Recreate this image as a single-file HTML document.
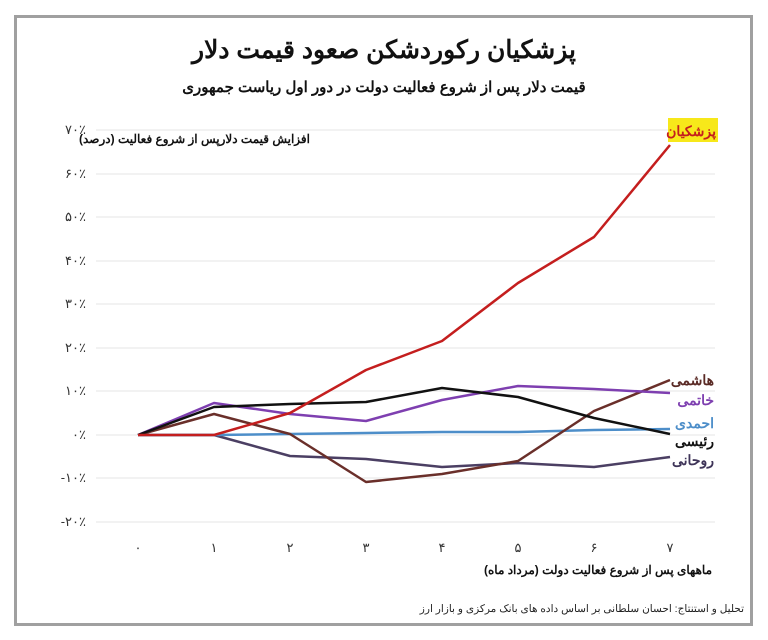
<!DOCTYPE html>
<html><head><meta charset="utf-8"><style>
body{margin:0;background:#fff;width:768px;height:640px;overflow:hidden}
svg{display:block}
text{font-family:"Liberation Sans","Noto Sans CJK SC",sans-serif}
</style></head><body>
<svg width="768" height="640" viewBox="0 0 768 640">
<rect x="15.5" y="16.5" width="736" height="608" fill="#fff" stroke="#a0a0a0" stroke-width="3"/>
<text x="384" y="58" text-anchor="middle" font-size="25" font-weight="bold" fill="#111" direction="rtl">پزشکیان رکوردشکن صعود قیمت دلار</text>
<text x="384" y="92" text-anchor="middle" font-size="15" font-weight="bold" fill="#111" direction="rtl">قیمت دلار پس از شروع فعالیت دولت در دور اول ریاست جمهوری</text>
<g stroke="#e6e6e6" stroke-width="1">
<line x1="96" x2="715" y1="130" y2="130"/><line x1="96" x2="715" y1="174" y2="174"/><line x1="96" x2="715" y1="217" y2="217"/><line x1="96" x2="715" y1="261" y2="261"/><line x1="96" x2="715" y1="304" y2="304"/><line x1="96" x2="715" y1="348" y2="348"/><line x1="96" x2="715" y1="391" y2="391"/><line x1="96" x2="715" y1="435" y2="435"/><line x1="96" x2="715" y1="478" y2="478"/><line x1="96" x2="715" y1="522" y2="522"/>
</g>
<g font-size="13" fill="#333" text-anchor="end">
<text x="86" y="134">۷۰٪</text><text x="86" y="178">۶۰٪</text><text x="86" y="221">۵۰٪</text><text x="86" y="265">۴۰٪</text><text x="86" y="308">۳۰٪</text><text x="86" y="352">۲۰٪</text><text x="86" y="395">۱۰٪</text><text x="86" y="439">۰٪</text><text x="86" y="482">-۱۰٪</text><text x="86" y="526">-۲۰٪</text>
</g>
<g font-size="13" fill="#333" text-anchor="middle">
<text x="138" y="552">۰</text><text x="214" y="552">۱</text><text x="290" y="552">۲</text><text x="366" y="552">۳</text><text x="442" y="552">۴</text><text x="518" y="552">۵</text><text x="594" y="552">۶</text><text x="670" y="552">۷</text>
</g>
<text x="310" y="143" text-anchor="start" font-size="12" font-weight="bold" fill="#111" direction="rtl">افزایش قیمت دلارپس از شروع فعالیت (درصد)</text>
<text x="712" y="574" text-anchor="start" font-size="12" font-weight="bold" fill="#111" direction="rtl">ماههای پس از شروع فعالیت دولت (مرداد ماه)</text>
<text x="744" y="612" text-anchor="start" font-size="10.5" fill="#222" direction="rtl">تحلیل و استنتاج: احسان سلطانی بر اساس داده های بانک مرکزی و بازار ارز</text>
<g fill="none" stroke-width="2.5" stroke-linejoin="round">
<polyline stroke="#4b3f63" points="138,435 214,435 290,456 366,459 442,467 518,463 594,467 670,457"/>
<polyline stroke="#4d8ec9" points="138,435 214,435 290,434 366,433 442,432 518,432 594,430 670,429"/>
<polyline stroke="#6a2f2a" points="138,435 214,414 290,434 366,482 442,474 518,461 594,411 670,380"/>
<polyline stroke="#7e3fb0" points="138,435 214,403 290,414 366,421 442,400 518,386 594,389 670,393"/>
<polyline stroke="#111" points="138,435 214,407 290,404 366,402 442,388 518,397 594,418 670,434"/>
<polyline stroke="#c41e1e" points="138,435 214,435 290,413 366,370 442,341 518,283 594,237 670,145"/>
</g>
<rect x="668" y="118" width="50" height="24" fill="#f7e81a"/>
<g font-size="14" font-weight="bold" text-anchor="start" direction="rtl">
<text x="716" y="136" fill="#c41e1e">پزشکیان</text>
<text x="714" y="385" fill="#5a2a25">هاشمی</text>
<text x="714" y="405" fill="#7e3fb0">خاتمی</text>
<text x="714" y="428" fill="#4d8ec9">احمدی</text>
<text x="714" y="446" fill="#111">رئیسی</text>
<text x="714" y="465" fill="#3e3458">روحانی</text>
</g>
</svg>
</body></html>
